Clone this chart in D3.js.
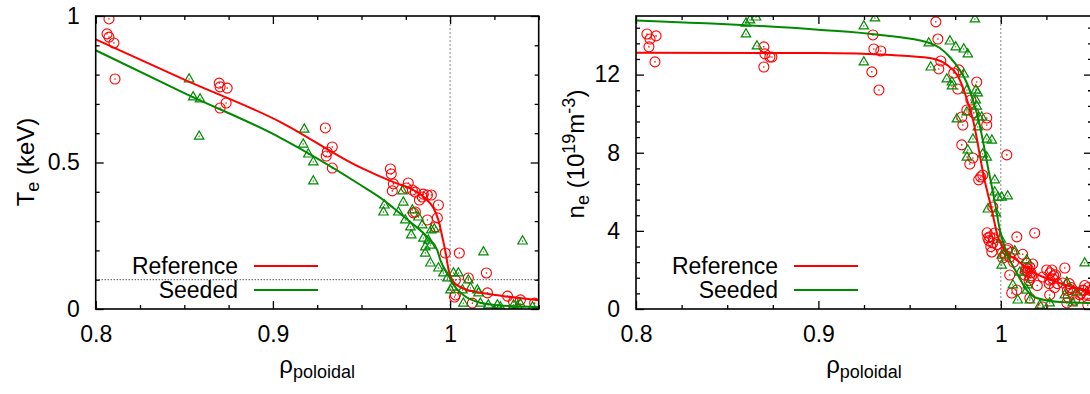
<!DOCTYPE html>
<html>
<head>
<meta charset="utf-8">
<script src="https://cdn.jsdelivr.net/npm/d3@7"></script>
<style>
  body { margin: 0; background: #fff; }
  svg { display: block; font-family: "Liberation Sans", Arial, sans-serif; }
</style>
</head>
<body>
<svg id="chart" width="1090" height="394"></svg>
<script>
// ---- data ----
const seriesNames = ["Reference", "Seeded"];
const xTicks = [0.8, 0.9, 1];
const xTickLabels = ["0.8", "0.9", "1"];
const teTicks = [0, 0.5, 1];
const teTickLabels = ["0", "0.5", "1"];
const neTicks = [0, 4, 8, 12];
const neTickLabels = ["0", "4", "8", "12"];

// Te (keV) measurements
const teRefPts = [
  [0.8075,0.990],[0.8064,0.939],[0.8075,0.928],[0.8103,0.908],[0.8109,0.785],
  [0.8697,0.771],[0.8702,0.758],[0.8742,0.754],[0.8736,0.703],[0.8702,0.686],
  [0.9296,0.618],[0.9335,0.553],[0.9307,0.536],[0.9301,0.522],[0.9335,0.481],
  [0.9663,0.478],[0.9668,0.461],[0.9680,0.427],[0.9674,0.403],[0.9764,0.430],
  [0.9753,0.413],[0.9787,0.406],[0.9804,0.399],[0.9849,0.392],[0.9872,0.389],
  [0.9894,0.389],[0.9843,0.382],[0.9827,0.372],[0.9934,0.355],[0.9804,0.331],
  [0.9793,0.328],[0.9872,0.304],[0.9928,0.311],[0.9917,0.280],[0.9973,0.191],
  [1.0052,0.191],[1.0205,0.123],[1.0103,0.106],[1.0030,0.099],[1.0030,0.048],
  [1.0025,0.041],[1.0126,0.020],[1.0211,0.055],[1.0324,0.044],[1.0397,0.031],
  [1.0358,0.024],[1.0477,0.020]
];
const teSeedPts = [
  [0.8527,0.785],[0.8550,0.724],[0.8589,0.717],[0.8584,0.590],[0.9177,0.614],
  [0.9171,0.563],[0.9200,0.529],[0.9228,0.502],[0.9228,0.437],[0.9731,0.403],
  [0.9736,0.365],[0.9629,0.355],[0.9624,0.331],[0.9708,0.331],[0.9787,0.338],
  [0.9747,0.304],[0.9776,0.280],[0.9781,0.253],[0.9821,0.314],[0.9843,0.287],
  [0.9894,0.270],[0.9911,0.273],[0.9849,0.242],[0.9877,0.235],[0.9860,0.212],
  [0.9889,0.218],[0.9860,0.191],[0.9889,0.157],[0.9934,0.140],[0.9962,0.123],
  [0.9985,0.106],[1.0019,0.123],[1.0047,0.123],[1.0013,0.075],[1.0002,0.065],
  [1.0070,0.065],[1.0103,0.099],[1.0115,0.072],[1.0154,0.065],[1.0160,0.055],
  [1.0075,0.020],[1.0188,0.195],[1.0409,0.232],[1.0171,0.020],[1.0216,0.014],
  [1.0267,0.014],[1.0284,0.007],[1.0358,0.014],[1.0380,0.010],[1.0397,0.017],
  [1.0465,0.007]
];
const teRefFit = [
  [0.8,0.92],[0.85,0.783],[0.904,0.639],[0.949,0.484],[0.968,0.433],[0.978,0.41],
  [0.987,0.372],[0.9906,0.345],[0.9934,0.304],[0.9956,0.246],[0.9974,0.195],
  [0.9991,0.135],[1.002,0.092],[1.0075,0.07],[1.0155,0.057],[1.027,0.047],
  [1.038,0.038],[1.05,0.03]
];
const teSeedFit = [
  [0.8,0.883],[0.85,0.737],[0.904,0.585],[0.949,0.425],[0.9624,0.372],[0.968,0.345],
  [0.9776,0.297],[0.987,0.246],[0.9928,0.20],[0.9945,0.167],[0.999,0.116],
  [1.002,0.082],[1.0075,0.048],[1.0155,0.024],[1.0267,0.013],[1.05,0.007]
];

// ne (1e19 m^-3) measurements
const neRefPts = [
  [0.8060,14.08],[0.8110,13.98],[0.8077,13.82],[0.8071,13.42],[0.8104,12.65],
  [0.8701,13.42],[0.8707,13.06],[0.8734,12.90],[0.8745,12.90],[0.8701,12.39],
  [0.9644,14.70],[0.9299,14.03],[0.9304,13.31],[0.9342,13.21],[0.9293,12.14],
  [0.9332,11.21],[0.9655,13.82],[0.9671,12.70],[0.9660,12.29],[0.9770,12.24],
  [0.9742,12.08],[0.9868,11.62],[0.9764,11.26],[0.9836,10.70],[0.9814,10.19],
  [0.9786,9.83],[0.9792,9.42],[0.9923,9.78],[0.9923,9.42],[0.9852,10.04],
  [0.9786,8.40],[0.9847,7.73],[0.9830,7.42],[1.0033,7.89],[0.9890,6.76],
  [0.9901,6.86],[0.9879,6.61],[0.9956,5.22],[0.9940,3.69],[0.9956,3.38],
  [0.9951,2.92],[0.9929,3.64],[0.9967,3.89],[1.0088,3.69],[1.0186,3.89],
  [1.0033,3.02],[1.0049,2.66],[1.0011,2.61],[1.0049,1.74],[1.0060,0.82],
  [1.0142,2.10],[1.0159,2.15],[1.0132,1.74],[1.0230,1.64],[1.0252,2.00],
  [1.0268,1.48],[1.0351,2.10],[1.0340,1.33],[1.0449,0.97],[1.0433,0.72],
  [1.0159,0.56],[1.0268,0.72],[1.0362,0.31],[1.0405,0.46],[1.0230,0.10],
  [1.0088,0.97],[1.0477,0.20],[1.0145,1.90],[1.0160,1.60],[1.0175,2.30],
  [1.0290,1.70],[1.0310,1.30],[1.0280,2.00],[1.0460,1.20],[1.0440,0.80],
  [1.0480,1.10],[0.9980,3.30],[1.0010,2.90],[1.0070,2.40],[1.0120,2.80],
  [1.0200,1.20],[1.0380,1.00],
  // dense blobs past the separatrix
  [0.9935,3.50],[0.9945,3.20],[0.9925,3.90],[0.9960,3.60],[1.0040,3.10],
  [1.0060,2.90],[1.0025,2.75],[1.0140,2.35],[1.0150,2.05],[1.0165,1.85],
  [1.0135,1.95],[1.0170,1.70],[1.0155,1.45],[1.0270,1.85],[1.0285,1.55],
  [1.0300,1.75],[1.0265,1.30],[1.0295,1.10],[1.0375,1.30],[1.0385,1.10],
  [1.0365,0.95],[1.0395,0.80],[1.0370,0.60],[1.0455,0.95],[1.0470,0.75],
  [1.0490,0.95],[1.0475,0.55]
];
const neSeedPts = [
  [0.8603,14.64],[0.8625,14.80],[0.8658,14.95],[0.8603,14.08],[0.8663,13.47],
  [0.9310,14.90],[0.9249,14.49],[0.9249,12.65],[0.9858,14.85],[0.9605,13.62],
  [0.9616,12.39],[0.9721,13.72],[0.9753,13.42],[0.9797,13.31],[0.9819,13.06],
  [0.9797,12.03],[0.9704,11.78],[0.9732,11.62],[0.9732,11.42],[0.9814,11.21],
  [0.9863,11.21],[0.9874,11.06],[0.9863,10.70],[0.9868,10.39],[0.9814,10.09],
  [0.9759,9.73],[0.9879,9.83],[0.9896,9.83],[0.9874,9.32],[0.9847,8.70],
  [0.9923,8.70],[0.9951,8.65],[0.9819,8.14],[0.9814,7.78],[0.9901,7.94],
  [0.9923,7.78],[0.9967,6.61],[0.9967,5.99],[1.0038,5.79],[0.9984,5.73],
  [1.0005,5.73],[0.9929,5.12],[0.9973,4.92],[1.0000,3.58],[1.0077,2.97],
  [1.0005,2.76],[1.0005,2.25],[1.0142,2.51],[1.0066,1.23],[1.0104,1.89],
  [1.0148,1.23],[1.0142,0.97],[1.0093,0.46],[1.0159,0.46],[1.0214,0.20],
  [1.0362,1.38],[1.0416,0.87],[1.0351,0.72],[1.0460,2.36],[1.0268,0.31],
  [1.0394,0.31]
];
const neRefFit = [
  [0.8,13.12],[0.9,13.1],[0.94,13.0],[0.961,12.85],[0.9704,12.5],[0.9759,12.0],
  [0.979,11.4],[0.9815,10.7],[0.9847,9.7],[0.9911,6.6],[0.995,5.1],[0.9984,3.7],
  [1.0022,3.0],[1.0088,2.5],[1.0175,1.9],[1.0323,1.33],[1.05,0.85]
];
const neSeedFit = [
  [0.8,14.77],[0.9,14.3],[0.934,14.03],[0.961,13.62],[0.9666,13.36],[0.972,12.9],
  [0.9775,12.24],[0.9814,11.57],[0.9847,10.7],[0.9874,9.83],[0.9935,7.0],
  [0.9967,5.5],[0.9995,4.04],[1.0033,2.87],[1.0088,1.84],[1.0142,0.97],
  [1.0197,0.56],[1.0323,0.36],[1.05,0.31]
];

// ---- drawing ----
const RED = "#ff0000", GREEN = "#008a00";
const svg = d3.select("#chart");
const TOP = 16, BOTTOM = 309;
const triPath = "M0,-5.2L4.7,3L-4.7,3Z";

function drawPanel(o) {
  const g = svg.append("g");
  const x = d3.scaleLinear().domain([0.8, 1.05]).range([o.left, o.right]);
  const y = d3.scaleLinear().domain(o.yDomain).range([BOTTOM, TOP]);

  const clipId = "clip" + o.id;
  svg.append("clipPath").attr("id", clipId)
    .append("rect").attr("x", o.left).attr("y", TOP)
    .attr("width", o.right - o.left).attr("height", BOTTOM - TOP);

  // reference lines
  g.append("line")
    .attr("x1", x(1)).attr("x2", x(1)).attr("y1", TOP).attr("y2", BOTTOM)
    .attr("stroke", "#888").attr("stroke-width", 1).attr("stroke-dasharray", "2,2");
  if (o.hLine != null) {
    g.append("line")
      .attr("x1", o.left).attr("x2", o.right).attr("y1", y(o.hLine)).attr("y2", y(o.hLine))
      .attr("stroke", "#000").attr("stroke-width", 1).attr("stroke-dasharray", "1,2");
  }

  // ticks (gnuplot style: inward, mirrored)
  const xMinor = d3.range(0.8, 1.0501, 0.025).filter(v => !xTicks.some(t => Math.abs(t - v) < 1e-6));
  const yMinor = d3.range(0, o.yDomain[1] + 1e-6, o.yMinorStep).filter(v => !o.yTicks.some(t => Math.abs(t - v) < 1e-6));
  const tickStyle = sel => {
    sel.select(".domain").remove();
    sel.selectAll(".tick line").attr("stroke", "#000").attr("stroke-width", 1.3);
    sel.selectAll("text").attr("font-size", 23).attr("fill", "#000")
      .attr("font-family", '"Liberation Sans", Arial, sans-serif');
  };
  const fmtX = d => xTickLabels[xTicks.indexOf(d)];
  const fmtY = d => o.yTickLabels[o.yTicks.indexOf(d)];

  g.append("g").attr("transform", `translate(0,${BOTTOM})`)
    .call(d3.axisBottom(x).tickValues(xTicks).tickSize(-8).tickPadding(17).tickFormat(fmtX)).call(tickStyle);
  g.append("g").attr("transform", `translate(0,${BOTTOM})`)
    .call(d3.axisBottom(x).tickValues(xMinor).tickSize(-4).tickFormat("")).call(tickStyle);
  g.append("g").attr("transform", `translate(0,${TOP})`)
    .call(d3.axisTop(x).tickValues(xTicks).tickSize(-8).tickFormat("")).call(tickStyle);
  g.append("g").attr("transform", `translate(0,${TOP})`)
    .call(d3.axisTop(x).tickValues(xMinor).tickSize(-4).tickFormat("")).call(tickStyle);

  g.append("g").attr("transform", `translate(${o.left},0)`)
    .call(d3.axisLeft(y).tickValues(o.yTicks).tickSize(-8).tickPadding(16).tickFormat(fmtY)).call(tickStyle);
  g.append("g").attr("transform", `translate(${o.left},0)`)
    .call(d3.axisLeft(y).tickValues(yMinor).tickSize(-4).tickFormat("")).call(tickStyle);
  g.append("g").attr("transform", `translate(${o.right},0)`)
    .call(d3.axisRight(y).tickValues(o.yTicks).tickSize(-8).tickFormat("")).call(tickStyle);
  g.append("g").attr("transform", `translate(${o.right},0)`)
    .call(d3.axisRight(y).tickValues(yMinor).tickSize(-4).tickFormat("")).call(tickStyle);

  // measured points
  const pts = g.append("g").attr("clip-path", `url(#${clipId})`);
  const circ = pts.selectAll("g.ref").data(o.refPts).join("g").attr("class", "ref")
    .attr("transform", d => `translate(${x(d[0])},${y(d[1])})`);
  circ.append("circle").attr("r", 5).attr("fill", "none").attr("stroke", RED).attr("stroke-width", 1.1);
  circ.append("circle").attr("r", 0.8).attr("fill", RED);

  const tri = pts.selectAll("g.seed").data(o.seedPts).join("g").attr("class", "seed")
    .attr("transform", d => `translate(${x(d[0])},${y(d[1])})`);
  tri.append("path").attr("d", triPath).attr("fill", "none").attr("stroke", GREEN).attr("stroke-width", 1.2);
  tri.append("circle").attr("r", 0.7).attr("fill", GREEN);

  // fitted profiles
  const line = d3.line().x(d => x(d[0])).y(d => y(d[1])).curve(d3.curveMonotoneX);
  const fits = g.append("g").attr("clip-path", `url(#${clipId})`);
  fits.append("path").attr("d", line(o.refFit)).attr("fill", "none").attr("stroke", RED).attr("stroke-width", 2);
  fits.append("path").attr("d", line(o.seedFit)).attr("fill", "none").attr("stroke", GREEN).attr("stroke-width", 2);

  // frame
  g.append("rect").attr("x", o.left).attr("y", TOP)
    .attr("width", o.right - o.left).attr("height", BOTTOM - TOP)
    .attr("fill", "none").attr("stroke", "#000").attr("stroke-width", 1.6);

  // legend
  const leg = g.append("g");
  [RED, GREEN].forEach((c, i) => {
    const ly = 266 + i * 24;
    leg.append("text").attr("x", o.legendX).attr("y", ly + 8).attr("text-anchor", "end")
      .attr("font-size", 23).text(seriesNames[i]);
    leg.append("line").attr("x1", o.legendX + 16).attr("x2", o.legendX + 80)
      .attr("y1", ly).attr("y2", ly).attr("stroke", c).attr("stroke-width", 2);
  });

  // x title
  const xt = g.append("text").attr("x", (o.left + o.right) / 2).attr("y", 373)
    .attr("text-anchor", "middle").attr("font-size", 24);
  xt.append("tspan").text("ρ");
  xt.append("tspan").attr("font-size", 18).attr("dy", 5).text("poloidal");

  // y title
  const yt = g.append("text").attr("transform", `translate(${o.yTitleX},${o.yTitleY}) rotate(-90)`)
    .attr("text-anchor", "middle").attr("font-size", 24);
  o.yTitle.forEach(p => {
    const s = yt.append("tspan").text(p.t);
    if (p.size) s.attr("font-size", p.size);
    if (p.dy) s.attr("dy", p.dy);
  });
}

drawPanel({
  id: "te", left: 95.7, right: 538.7, yDomain: [0, 1], yMinorStep: 0.1,
  yTicks: teTicks, yTickLabels: teTickLabels, hLine: 0.1,
  refPts: teRefPts, seedPts: teSeedPts, refFit: teRefFit, seedFit: teSeedFit,
  legendX: 238, yTitleX: 34, yTitleY: 162,
  yTitle: [{ t: "T" }, { t: "e", size: 18, dy: 5 }, { t: " (keV)", dy: -5 }]
});

drawPanel({
  id: "ne", left: 636, right: 1092, yDomain: [0, 15], yMinorStep: 0.8,
  yTicks: neTicks, yTickLabels: neTickLabels, hLine: null,
  refPts: neRefPts, seedPts: neSeedPts, refFit: neRefFit, seedFit: neSeedFit,
  legendX: 778, yTitleX: 584, yTitleY: 154,
  yTitle: [{ t: "n" }, { t: "e", size: 18, dy: 5 }, { t: " (10", dy: -5 },
           { t: "19", size: 18, dy: -9 }, { t: "m", dy: 9 }, { t: "-3", size: 18, dy: -9 },
           { t: ")", dy: 9 }]
});
</script>
</body>
</html>
